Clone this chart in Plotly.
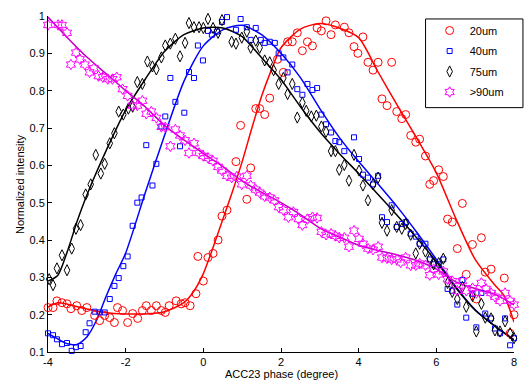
import plotly.graph_objects as go

# ---------------- data ----------------
red_x = [-4.00,-3.87,-3.77,-3.64,-3.51,-3.41,-3.26,-3.13,-3.00,-2.80,-2.67,-2.54,-2.41,-2.29,-2.21,-2.08,-1.95,-1.82,-1.69,-1.57,
         -1.47,-1.34,-1.21,-1.08,-0.98,-0.88,-0.70,-0.57,-0.47,-0.34,-0.19,-0.14,0.00,0.12,0.25,0.38,0.48,0.61,0.84,0.96,
         1.12,1.22,1.35,1.45,1.58,1.71,1.91,2.06,2.17,2.29,2.42,2.55,2.68,2.81,2.93,3.04,3.16,3.29,3.40,3.63,
         3.75,3.88,3.98,4.11,4.24,4.37,4.50,4.60,4.73,4.85,4.98,5.11,5.21,5.34,5.47,5.57,5.72,5.83,5.93,6.06,
         6.18,6.29,6.41,6.54,6.67,6.77,6.93,7.03,7.16,7.26,7.41,7.75,7.90,8.00]
red_y = [0.219,0.219,0.237,0.232,0.229,0.216,0.224,0.211,0.219,0.198,0.184,0.198,0.192,0.179,0.219,0.211,0.179,0.203,0.190,0.211,
         0.224,0.211,0.224,0.211,0.206,0.224,0.237,0.229,0.232,0.224,0.256,0.356,0.290,0.353,0.364,0.400,0.464,0.480,0.610,0.707,
         0.509,0.593,0.752,0.752,0.736,0.780,0.884,0.849,0.931,0.931,0.955,0.907,0.931,0.920,0.968,0.960,0.987,0.950,0.976,0.970,
         0.955,0.918,0.900,0.944,0.876,0.855,0.876,0.778,0.760,0.876,0.744,0.725,0.736,0.680,0.662,0.670,0.625,0.549,0.559,0.588,
         0.570,0.456,0.448,0.377,0.498,0.308,0.388,0.242,0.406,0.314,0.322,0.298,0.150,0.200]

blue_x = [-4.00,-3.87,-3.77,-3.64,-3.51,-3.39,-3.28,-3.16,-3.03,-2.93,-2.80,-2.67,-2.54,-2.41,-2.29,-2.18,-2.06,-1.95,-1.82,-1.70,
          -1.59,-1.47,-1.31,-1.21,-1.08,-0.98,-0.85,-0.72,-0.60,-0.49,-0.37,-0.24,-0.14,-0.01,0.12,0.22,0.35,0.48,0.61,0.84,
          0.96,1.12,1.22,1.35,1.48,1.58,1.71,1.84,1.94,2.06,2.17,2.29,2.42,2.55,2.68,2.81,2.93,3.04,3.16,3.29,
          3.40,3.50,3.63,3.88,4.01,4.11,4.24,4.37,4.50,4.60,4.73,4.85,4.98,5.11,5.21,5.34,5.47,5.57,5.72,5.83,
          5.93,6.06,6.18,6.29,6.41,6.54,6.67,6.77,6.93,7.03,7.16,7.26,7.41,7.51,7.64,7.77,7.90,8.00]
blue_y = [0.150,0.145,0.134,0.121,0.124,0.103,0.113,0.116,0.153,0.177,0.208,0.206,0.206,0.242,0.277,0.298,0.330,0.356,0.438,0.500,
          0.514,0.654,0.546,0.604,0.704,0.731,0.834,0.770,0.651,0.741,0.850,0.834,0.921,0.881,0.960,0.950,0.958,0.984,0.997,0.963,
          0.992,0.970,0.936,0.968,0.936,0.928,0.931,0.928,0.900,0.889,0.849,0.870,0.804,0.789,0.818,0.802,0.807,0.736,0.710,0.688,
          0.665,0.662,0.638,0.675,0.617,0.575,0.567,0.549,0.572,0.461,0.448,0.493,0.435,0.443,0.448,0.417,0.409,0.390,0.390,0.348,
          0.335,0.335,0.348,0.269,0.264,0.227,0.293,0.192,0.256,0.166,0.258,0.203,0.190,0.163,0.150,0.190,0.118,0.137]

black_x = [-3.97,-3.87,-3.77,-3.64,-3.51,-3.39,-3.28,-3.16,-3.03,-2.90,-2.77,-2.64,-2.54,-2.41,-2.29,-2.18,-2.06,-1.93,-1.82,-1.70,
           -1.57,-1.44,-1.31,-1.21,-1.08,-0.98,-0.85,-0.72,-0.60,-0.47,-0.37,-0.24,-0.11,0.00,0.12,0.25,0.38,0.48,0.73,0.84,
           0.99,1.12,1.22,1.35,1.45,1.58,1.71,1.81,1.94,2.06,2.17,2.29,2.42,2.55,2.65,2.78,2.91,3.04,3.16,3.29,
           3.40,3.50,3.63,3.75,3.88,4.01,4.11,4.24,4.37,4.50,4.60,4.73,4.85,4.98,5.11,5.21,5.34,5.47,5.57,5.72,
           5.83,5.93,6.06,6.18,6.29,6.41,6.54,6.67,6.77,6.93,7.03,7.16,7.26,7.41,7.51,7.64,7.77,7.90,8.00]
black_y = [0.295,0.279,0.324,0.359,0.319,0.377,0.430,0.440,0.522,0.549,0.628,0.578,0.604,0.659,0.686,0.744,0.736,0.752,0.757,0.823,
           0.818,0.878,0.865,0.857,0.889,0.921,0.926,0.939,0.892,0.928,0.981,0.970,0.970,0.968,0.992,0.968,0.955,0.989,0.931,0.926,
           0.942,0.958,0.915,0.934,0.915,0.881,0.876,0.855,0.818,0.834,0.791,0.818,0.728,0.768,0.746,0.731,0.733,0.704,0.690,0.638,
           0.638,0.588,0.601,0.559,0.628,0.586,0.546,0.506,0.549,0.567,0.446,0.425,0.480,0.435,0.430,0.443,0.414,0.364,0.390,0.369,
           0.350,0.335,0.338,0.350,0.285,0.261,0.242,0.274,0.221,0.250,0.155,0.229,0.192,0.190,0.158,0.155,0.182,0.150,0.137]

mag_x = [-4.00,-3.74,-3.64,-3.51,-3.41,-3.28,-3.18,-3.05,-2.93,-2.82,-2.70,-2.59,-2.46,-2.34,-2.23,-2.08,-1.95,-1.82,-1.70,-1.57,
         -1.47,-1.34,-1.21,-1.08,-0.98,-0.85,-0.72,-0.60,-0.47,-0.37,-0.24,-0.11,0.00,0.12,0.25,0.38,0.48,0.61,0.73,0.86,
         0.99,1.12,1.22,1.35,1.45,1.58,1.71,1.83,1.94,2.06,2.19,2.32,2.45,2.55,2.68,2.81,2.93,3.04,3.16,3.29,
         3.40,3.50,3.63,3.75,3.88,4.01,4.11,4.24,4.37,4.50,4.60,4.73,4.85,4.98,5.08,5.21,5.34,5.47,5.57,5.72,
         5.83,5.93,6.06,6.18,6.29,6.41,6.54,6.67,6.77,6.93,7.03,7.16,7.28,7.41,7.51,7.64,7.77,7.90,8.00]
mag_y = [0.976,0.976,0.976,0.955,0.870,0.902,0.884,0.870,0.849,0.860,0.839,0.836,0.831,0.831,0.836,0.804,0.786,0.760,0.760,0.773,
         0.738,0.744,0.727,0.703,0.702,0.651,0.696,0.680,0.667,0.633,0.659,0.633,0.625,0.620,0.612,0.596,0.586,0.572,0.567,0.570,
         0.549,0.572,0.546,0.535,0.527,0.517,0.514,0.506,0.488,0.480,0.461,0.475,0.456,0.440,0.456,0.461,0.459,0.422,0.414,0.417,
         0.411,0.406,0.406,0.382,0.425,0.403,0.390,0.377,0.374,0.382,0.353,0.351,0.348,0.348,0.340,0.353,0.332,0.332,0.337,0.332,
         0.306,0.322,0.308,0.316,0.295,0.290,0.264,0.290,0.264,0.271,0.258,0.285,0.269,0.258,0.248,0.237,0.258,0.237,0.227]

# fitted curves
red_fit_x = [-4.0,-3.75,-3.5,-3.0,-2.5,-2.0,-1.5,-1.0,-0.5,-0.25,0.0,0.25,0.5,0.75,1.0,1.25,1.5,1.75,2.0,2.5,3.0,3.5,4.0,4.5,5.0,5.5,6.0,6.5,7.0,7.5,7.75,8.0]
red_fit_y = [0.22,0.232,0.228,0.215,0.205,0.202,0.202,0.208,0.232,0.262,0.31,0.38,0.455,0.53,0.61,0.70,0.785,0.855,0.915,0.965,0.98,0.968,0.942,0.85,0.76,0.672,0.58,0.458,0.348,0.28,0.25,0.18]
blue_fit_x = [-4.0,-3.75,-3.5,-3.25,-3.0,-2.75,-2.5,-2.25,-2.0,-1.5,-1.0,-0.5,0.0,0.5,1.0,1.5,2.0,2.5,3.0,3.5,4.0,4.5,5.0,5.5,6.0,6.5,7.0,7.5,8.0]
blue_fit_y = [0.15,0.135,0.122,0.12,0.14,0.185,0.25,0.31,0.365,0.525,0.68,0.825,0.92,0.963,0.975,0.95,0.9,0.835,0.752,0.675,0.61,0.55,0.488,0.42,0.348,0.275,0.213,0.17,0.133]
black_fit_x = [-4.0,-3.75,-3.5,-3.25,-3.0,-2.5,-2.0,-1.5,-1.0,-0.5,0.0,0.5,1.0,1.5,2.0,2.5,3.0,3.5,4.0,4.5,5.0,5.5,6.0,6.5,7.0,7.5,8.0]
black_fit_y = [0.29,0.305,0.37,0.45,0.52,0.64,0.748,0.83,0.905,0.95,0.968,0.968,0.945,0.888,0.83,0.757,0.69,0.632,0.578,0.522,0.465,0.405,0.342,0.272,0.212,0.17,0.132]
mag_fit_x = [-4.0,-3.5,-3.0,-2.5,-2.0,-1.5,-1.0,-0.5,0.0,0.5,1.0,1.5,2.0,2.5,3.0,3.5,4.0,4.5,5.0,5.5,6.0,6.5,7.0,7.5,8.0]
mag_fit_y = [0.997,0.942,0.89,0.845,0.8,0.757,0.707,0.668,0.632,0.597,0.558,0.528,0.5,0.468,0.432,0.408,0.386,0.372,0.36,0.345,0.322,0.288,0.27,0.255,0.226]

names = ["20um", "40um", "75um", ">90um"]
x_ticks = [-4, -2, 0, 2, 4, 6, 8]
x_tick_text = ["-4", "-2", "0", "2", "4", "6", "8"]
y_ticks = [0.1, 0.2, 0.3, 0.4, 0.5, 0.6, 0.7, 0.8, 0.9, 1.0]
y_tick_text = ["0.1", "0.2", "0.3", "0.4", "0.5", "0.6", "0.7", "0.8", "0.9", "1"]

# ---------------- figure ----------------
FONT = "Liberation Sans, Arial, Helvetica, sans-serif"
fig = go.Figure()

fits = [(red_fit_x, red_fit_y, "#ff0000"), (blue_fit_x, blue_fit_y, "#0000ff"),
        (black_fit_x, black_fit_y, "#000000"), (mag_fit_x, mag_fit_y, "#c000c0")]
for fx, fy, c in fits:
    fig.add_trace(go.Scatter(x=fx, y=fy, mode="lines", line=dict(color=c, width=1.5, shape="spline", smoothing=0.7),
                             showlegend=False, hoverinfo="skip"))

series = [
    (red_x, red_y, "#ff0000", "circle-open", 8),
    (blue_x, blue_y, "#0000ff", "square-open", 5),
    (black_x, black_y, "#000000", "diamond-tall-open", 8),
    (mag_x, mag_y, "#ff00ff", "hexagram-open", 8),
]
for i, ((sx, sy, c, sym, sz), nm) in enumerate(zip(series, names)):
    fig.add_trace(go.Scatter(x=sx, y=sy, mode="markers", name=nm, cliponaxis=False, legendgroup=f"g{i}",
                             marker=dict(symbol=sym, size=sz, color=c, line=dict(color=c, width=1))))

# legend box
fig.add_shape(type="rect", xref="paper", yref="paper", x0=0.8102, x1=1.0192, y0=0.7273, y1=0.9912,
              line=dict(color="black", width=1), fillcolor="white", layer="below")

fig.update_layout(
    width=527, height=381,
    margin=dict(l=48, r=10, t=11, b=29),
    paper_bgcolor="white", plot_bgcolor="white",
    font=dict(family=FONT, size=11, color="black"),
    showlegend=True,
    legend=dict(x=0.819, y=1.0, xanchor="left", yanchor="top", bgcolor="rgba(0,0,0,0)",
                borderwidth=0, font=dict(family=FONT, size=11), tracegroupgap=1.5),
    xaxis=dict(range=[-4, 8], tickvals=x_ticks, ticktext=x_tick_text, ticks="inside", ticklen=4,
               tickcolor="black", showline=True, linecolor="black", linewidth=1, showgrid=False,
               zeroline=False, tickfont=dict(family=FONT, size=11)),
    yaxis=dict(range=[0.1, 1.0], tickvals=y_ticks, ticktext=y_tick_text, ticks="inside", ticklen=4,
               tickcolor="black", showline=True, linecolor="black", linewidth=1, showgrid=False,
               zeroline=False, tickfont=dict(family=FONT, size=11)),
    annotations=[
        dict(text="ACC23 phase (degree)", xref="paper", yref="paper", x=0.5, y=-0.066, yanchor="middle",
             showarrow=False, font=dict(family=FONT, size=11)),
        dict(text="Normalized intensity", xref="paper", yref="paper", x=-0.06, y=0.5, textangle=-90,
             xanchor="center", yanchor="middle", showarrow=False, font=dict(family=FONT, size=11)),
    ],
)

fig.write_html("out.html", config={"displayModeBar": False},
               post_script="document.body.style.margin='0px';document.body.style.overflow='hidden';")
